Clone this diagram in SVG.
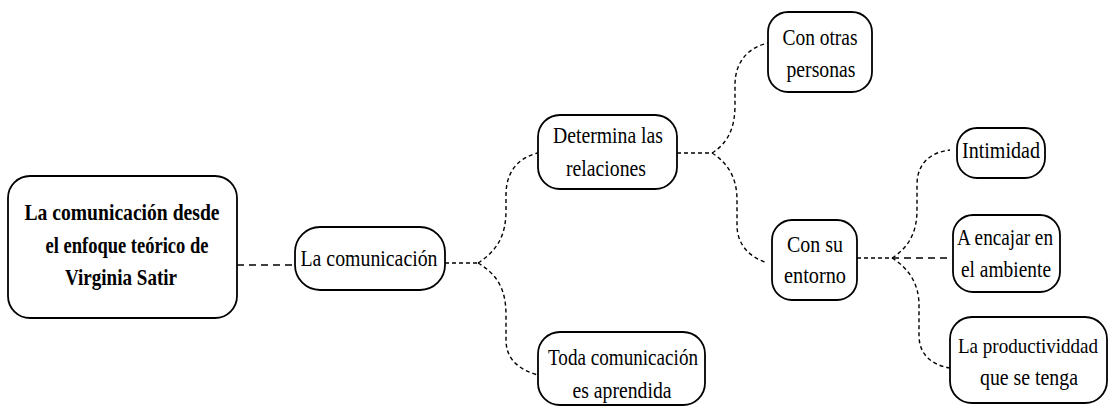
<svg xmlns="http://www.w3.org/2000/svg" width="1110" height="408" viewBox="0 0 1110 408">
<style>
.box{fill:#fff;stroke:#000;stroke-width:1.8}
.c{fill:none;stroke:#000;stroke-width:1.4;stroke-dasharray:4 3}
.cl{fill:none;stroke:#000;stroke-width:1.4;stroke-dasharray:7 5}
</style>
<rect width="1110" height="408" fill="#fff"/>
<g id="connectors">
<path class="cl" d="M237,265 H295"/>
<path class="c" d="M445,263 H478"/>
<path class="c" d="M478,263 C498,250 506,235 506,210 L506,195 C506,170 520,157 538,153"/>
<path class="c" d="M478,263 C498,275 506,290 506,315 L506,340 C506,360 520,370 538,375"/>
<path class="c" d="M677,153 H712"/>
<path class="c" d="M712,153 C728,143 735,128 735,105 L735,85 C735,60 750,47 768,43"/>
<path class="c" d="M712,153 C728,163 737,178 737,200 L737,225 C737,245 750,257 765,262"/>
<path class="c" d="M857,258 H892"/>
<path class="cl" d="M892,258 H952"/>
<path class="c" d="M892,258 C908,248 917,233 917,210 L917,185 C917,162 932,152 950,150"/>
<path class="c" d="M892,258 C908,268 919,283 919,305 L919,335 C919,355 932,365 950,368"/>
</g>
<g font-family="Liberation Serif, serif" font-size="23" text-anchor="middle">
<g id="main">
<rect class="box" x="8" y="176" width="229" height="142" rx="22"/>
<text x="122" y="220" font-weight="bold" textLength="195" lengthAdjust="spacingAndGlyphs">La comunicaci&#243;n desde</text>
<text x="127" y="253" font-weight="bold" textLength="163" lengthAdjust="spacingAndGlyphs">el enfoque te&#243;rico de</text>
<text x="121" y="285" font-weight="bold" textLength="112" lengthAdjust="spacingAndGlyphs">Virginia Satir</text>
</g>
<g id="lacomunicacion">
<rect class="box" x="295" y="227" width="150" height="63" rx="25"/>
<text x="369" y="266" textLength="137" lengthAdjust="spacingAndGlyphs">La comunicaci&#243;n</text>
</g>
<g id="determina">
<rect class="box" x="538" y="115" width="139" height="74" rx="22"/>
<text x="608" y="143" textLength="110" lengthAdjust="spacingAndGlyphs">Determina las</text>
<text x="606" y="176" textLength="80" lengthAdjust="spacingAndGlyphs">relaciones</text>
</g>
<g id="toda">
<rect class="box" x="538" y="332" width="167" height="73" rx="22"/>
<text x="623" y="365" textLength="150" lengthAdjust="spacingAndGlyphs">Toda comunicaci&#243;n</text>
<text x="622" y="398" textLength="99" lengthAdjust="spacingAndGlyphs">es aprendida</text>
</g>
<g id="conotras">
<rect class="box" x="768" y="12" width="104" height="80" rx="20"/>
<text x="820" y="45" textLength="75" lengthAdjust="spacingAndGlyphs">Con otras</text>
<text x="821" y="77" textLength="69" lengthAdjust="spacingAndGlyphs">personas</text>
</g>
<g id="consu">
<rect class="box" x="772" y="220" width="85" height="80" rx="20"/>
<text x="815" y="252" textLength="56" lengthAdjust="spacingAndGlyphs">Con su</text>
<text x="815" y="283" textLength="62" lengthAdjust="spacingAndGlyphs">entorno</text>
</g>
<g id="intimidad">
<rect class="box" x="957" y="128" width="88" height="50" rx="20"/>
<text x="1001" y="158" textLength="78" lengthAdjust="spacingAndGlyphs">Intimidad</text>
</g>
<g id="aencajar">
<rect class="box" x="953" y="215" width="107" height="77" rx="20"/>
<text x="1005" y="245" textLength="96" lengthAdjust="spacingAndGlyphs">A encajar en</text>
<text x="1006" y="277" textLength="90" lengthAdjust="spacingAndGlyphs">el ambiente</text>
</g>
<g id="laproductividad">
<rect class="box" x="950" y="317" width="157" height="86" rx="22"/>
<text x="1028" y="353" font-size="21" textLength="140" lengthAdjust="spacingAndGlyphs">La productividdad</text>
<text x="1029" y="385" textLength="98" lengthAdjust="spacingAndGlyphs">que se tenga</text>
</g>
</g>
</svg>
